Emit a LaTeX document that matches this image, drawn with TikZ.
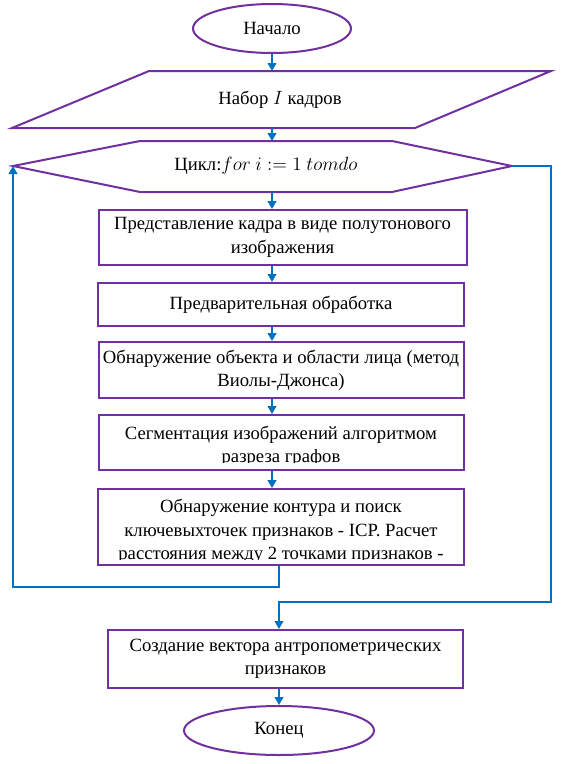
\documentclass[tikz,border=0pt]{standalone}
\usepackage{fontspec}
\setmainfont{Liberation Serif}
\usetikzlibrary{shapes.geometric,arrows.meta}

\definecolor{flowPurple}{HTML}{7030A0}
\definecolor{flowBlue}{HTML}{0070C0}

\tikzset{
  outline/.style={draw=flowPurple, line width=1.5pt},
  block/.style={outline, rectangle, inner sep=0pt, align=center, font=\fontsize{14}{17.5}\selectfont},
  terminal/.style={outline, ellipse, inner sep=0pt, minimum height=36.75pt, font=\fontsize{14}{17.5}\selectfont},
  textonly/.style={inner sep=0pt, align=center, font=\fontsize{14}{17.5}\selectfont},
  flow/.style={draw=flowBlue, line width=1.5pt, -{Triangle[length=6pt,width=6.5pt]}},
}

\begin{document}
\begin{tikzpicture}[x=0.75pt, y=-0.75pt]
    % Fix the size of the picture
    \useasboundingbox (0,0) rectangle (561,764);

    % Vertical lines that the arrows follow
    \coordinate (axis) at (272,0);
    \coordinate (exitAxis) at (279,0);

    % Start of the algorithm
    \node[terminal, minimum width=118.5pt] (start) at (272,28.5) {Начало};

    % Input parallelogram
    \coordinate (inTL) at (149,71);
    \coordinate (inTR) at (551,71);
    \coordinate (inBR) at (415,128);
    \coordinate (inBL) at (12,128);
    \draw[outline] (inTL) -- (inTR) -- (inBR) -- (inBL) -- cycle;
    \node[textonly] (input) at (280,100) {Набор $I$ кадров};

    % Loop hexagon
    \coordinate (hexTL) at (140,141);
    \coordinate (hexTR) at (392,141);
    \coordinate (hexR) at (512,166);
    \coordinate (hexBR) at (392,192);
    \coordinate (hexBL) at (140,192);
    \coordinate (hexL) at (13,166);
    \draw[outline] (hexTL) -- (hexTR) -- (hexR) -- (hexBR) -- (hexBL) -- (hexL) -- cycle;
    \node[textonly] (loop) at (266,166) {Цикл:$for\ i \mathrel{:=} 1\ tomdo$};

    % Steps inside the loop
    \node[block, minimum width=276pt, minimum height=41.25pt] (frame) at (282.5,237.5) {Представление кадра в виде полутонового\\изображения};
    \node[block, minimum width=274.5pt, minimum height=32.25pt] (prep) at (281,304.5) {Предварительная обработка};
    \node[block, minimum width=273.75pt, minimum height=42pt] (face) at (281,370) {Обнаружение объекта и области лица (метод\\Виолы-Джонса)};
    \node[block, minimum width=273.75pt, minimum height=41.25pt] (segm) at (281,442.5) {};
    \node[block, minimum width=274.5pt, minimum height=57pt] (detect) at (281,527) {};

    % Text of the boxes that is cut off at the bottom
    \begin{scope}
      \clip ([yshift=6.75pt]segm.south west) rectangle (segm.north east);
      \node[textonly, anchor=north] at ([yshift=-9pt]segm.north) {Сегментация изображений алгоритмом\\разреза графов};
    \end{scope}
    \begin{scope}
      \clip ([yshift=5.25pt]detect.south west) rectangle (detect.north east);
      \node[textonly, anchor=north] at ([yshift=-8.5pt]detect.north) {Обнаружение контура и поиск\\ключевыхточек признаков - ICP. Расчет\\расстояния между 2 точками признаков -};
    \end{scope}

    % Steps after the loop
    \node[block, minimum width=266.25pt, minimum height=43.5pt] (vector) at (285.5,659) {Создание вектора антропометрических\\признаков};
    \node[terminal, minimum width=142.5pt] (finish) at (279,730.5) {Конец};

    % Arrows
    \draw[flow] (start.south) -- (inTL -| axis);
    \draw[flow] (inBL -| axis) -- (hexTL -| axis);
    \draw[flow] (hexBL -| axis) -- (frame.north -| axis);
    \foreach \a/\b in {frame/prep, prep/face, face/segm, segm/detect}
      \draw[flow] (\a.south -| axis) -- (\b.north -| axis);

    % Back to the start of the loop
    \coordinate (backLeft) at (13,587);
    \draw[flow] (detect.south -| exitAxis) |- (backLeft) -- (hexL);

    % Leaving the loop
    \coordinate (exitRight) at (551,602);
    \draw[flow] (hexR) -| (exitRight) -| (vector.north -| exitAxis);
    \draw[flow] (vector.south -| exitAxis) -- (finish.north);
\end{tikzpicture}
\end{document}
